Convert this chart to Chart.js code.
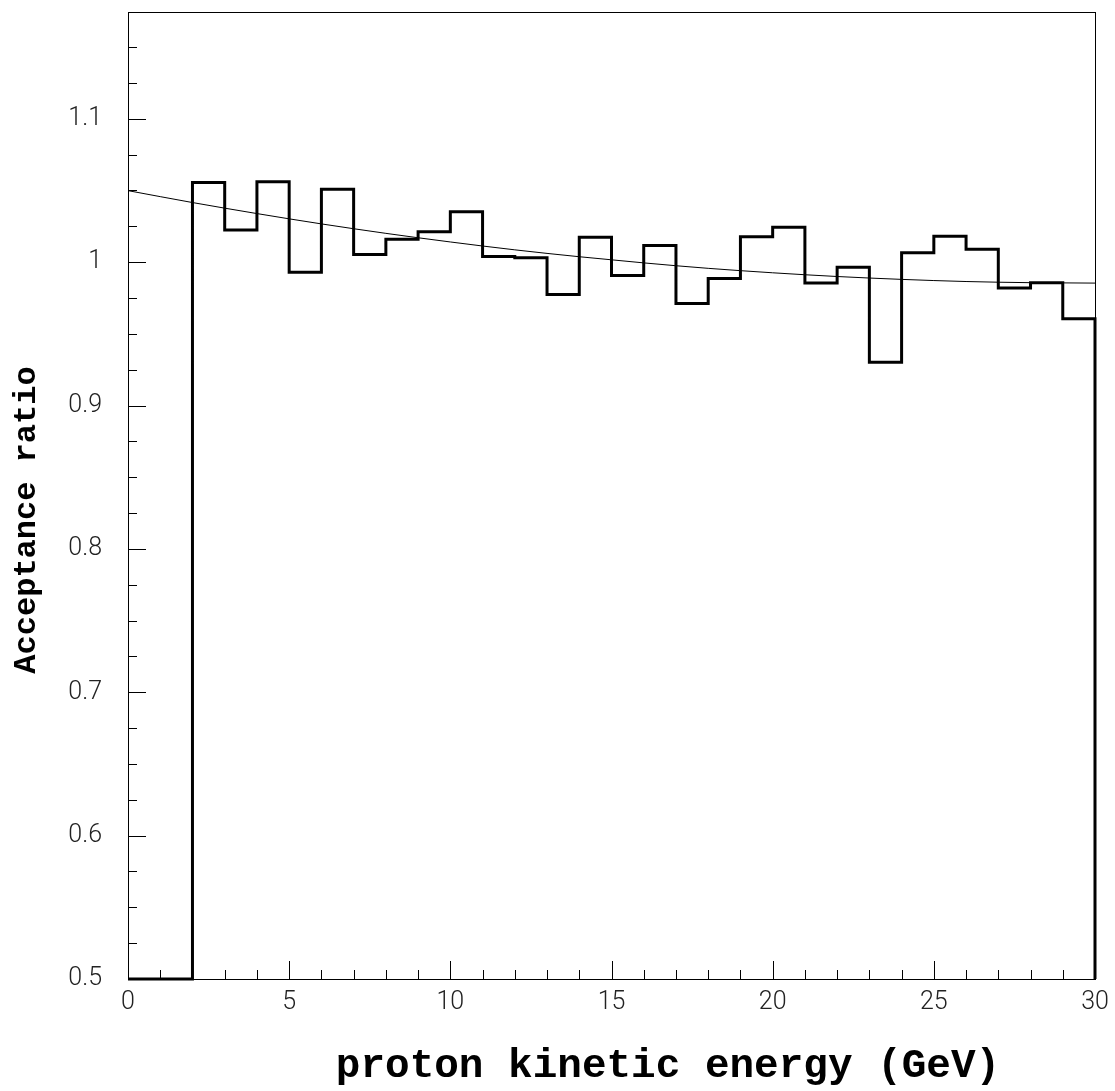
<!DOCTYPE html>
<html>
<head>
<meta charset="utf-8">
<script src="https://cdn.jsdelivr.net/npm/chart.js@4.4.1/dist/chart.umd.min.js"></script>
<style>
    html, body { margin: 0; padding: 0; background: #fff; }
    #chart-acceptance { display: block; }
</style>
</head>
<body>
<canvas id="chart-acceptance" width="1115" height="1091"></canvas>
<script>
// acceptance ratio histogram, 1 GeV bins from 0 to 30
const binEdges = [0, 1, 2, 3, 4, 5, 6, 7, 8, 9, 10, 11, 12, 13, 14, 15, 16, 17, 18, 19, 20, 21, 22, 23, 24, 25, 26, 27, 28, 29, 30];
const binValues = [
    0.5, 0.5, 1.0555, 1.0225, 1.0561, 0.993, 1.0508, 1.0053, 1.016, 1.0213,
    1.0352, 1.0039, 1.003, 0.9775, 1.0174, 0.9907, 1.0116, 0.9712, 0.9886, 1.0178,
    1.0243, 0.9854, 0.9965, 0.9302, 1.0065, 1.018, 1.009, 0.9819, 0.9856, 0.9606
];

// fitted curve, every 2 GeV
const fitX = [0, 2, 4, 6, 8, 10, 12, 14, 16, 18, 20, 22, 24, 26, 28, 30];
const fitY = [1.0499, 1.0416, 1.0339, 1.0267, 1.0201, 1.0141, 1.0086, 1.0038, 0.9995, 0.9957, 0.9926, 0.99, 0.988, 0.9865, 0.9857, 0.9854];

const xTickLabels = [0, 5, 10, 15, 20, 25, 30];
const yTickLabels = [0.5, 0.6, 0.7, 0.8, 0.9, 1, 1.1];

const xTitle = 'proton kinetic energy (GeV)';
const yTitle = 'Acceptance ratio';

const tickFont = { family: 'Roboto, "Liberation Sans", sans-serif', size: 25, weight: 300 };
const isMajorX = (v) => xTickLabels.some(t => Math.abs(t - v) < 1e-6);
const isMajorY = (v) => yTickLabels.some(t => Math.abs(t - v) < 1e-6);

// histogram as step line: each point holds its value until the next edge
const histPoints = binValues.map((v, i) => ({ x: binEdges[i], y: v }));
histPoints.push({ x: binEdges[binEdges.length - 1], y: binValues[binValues.length - 1] });
histPoints.push({ x: binEdges[binEdges.length - 1], y: 0.5 });

const fitPoints = fitX.map((x, i) => ({ x: x, y: fitY[i] }));

// ROOT style: ticks pointing inward, frame all round, mono bold titles
const frameAndTicks = {
    id: 'frameAndTicks',
    afterDatasetsDraw(chart) {
        const { ctx, chartArea: a, scales } = chart;
        ctx.save();
        ctx.strokeStyle = '#000';
        ctx.lineWidth = 1;
        ctx.strokeRect(a.left + 0.5, a.top + 0.5, a.right - a.left, a.bottom - a.top);

        ctx.beginPath();
        scales.x.ticks.forEach(t => {
            const px = Math.round(scales.x.getPixelForValue(t.value)) + 0.5;
            const len = isMajorX(t.value) ? 18 : 9;
            ctx.moveTo(px, a.bottom);
            ctx.lineTo(px, a.bottom - len);
        });
        scales.y.ticks.forEach(t => {
            const py = Math.round(scales.y.getPixelForValue(t.value)) + 0.5;
            const len = isMajorY(t.value) ? 18 : 9;
            ctx.moveTo(a.left, py);
            ctx.lineTo(a.left + len, py);
        });
        ctx.stroke();
        ctx.restore();
    },
    afterDraw(chart) {
        const { ctx } = chart;
        ctx.save();
        ctx.fillStyle = '#000';
        ctx.font = "bold 41px 'Liberation Mono', 'DejaVu Sans Mono', monospace";
        ctx.textAlign = 'center';
        ctx.textBaseline = 'alphabetic';
        ctx.fillText(xTitle, 668, 1077);

        ctx.translate(35, 520);
        ctx.rotate(-Math.PI / 2);
        ctx.font = "bold 32px 'Liberation Mono', 'DejaVu Sans Mono', monospace";
        ctx.fillText(yTitle, 0, 0);
        ctx.restore();
    }
};

new Chart(document.getElementById('chart-acceptance'), {
    type: 'line',
    data: {
        datasets: [
            {
                label: 'fit',
                data: fitPoints,
                borderColor: '#000',
                borderWidth: 1,
                pointRadius: 0,
                cubicInterpolationMode: 'monotone',
                fill: false
            },
            {
                label: 'ratio',
                data: histPoints,
                borderColor: '#000',
                borderWidth: 3,
                pointRadius: 0,
                stepped: true,
                fill: false,
                clip: 4
            }
        ]
    },
    options: {
        responsive: false,
        devicePixelRatio: 1,
        animation: false,
        layout: { padding: { top: 12, right: 20, left: 0, bottom: 0 } },
        plugins: {
            legend: { display: false },
            tooltip: { enabled: false }
        },
        scales: {
            x: {
                type: 'linear',
                min: 0,
                max: 30,
                afterFit: (scale) => {
                    scale.height = 112;
                    scale.paddingLeft = 0;
                    scale.paddingRight = 0;
                },
                grid: { display: false, drawTicks: false },
                border: { display: true, color: '#000', width: 1 },
                ticks: {
                    stepSize: 1,
                    autoSkip: false,
                    maxRotation: 0,
                    padding: 9,
                    color: '#222',
                    font: tickFont,
                    callback: (v) => isMajorX(v) ? String(Math.round(v)) : ''
                }
            },
            y: {
                type: 'linear',
                min: 0.5,
                max: 1.1745,
                afterFit: (scale) => {
                    scale.width = 128;
                    scale.paddingTop = 0;
                    scale.paddingBottom = 0;
                },
                grid: { display: false, drawTicks: false },
                border: { display: true, color: '#000', width: 1 },
                ticks: {
                    stepSize: 0.025,
                    includeBounds: false,
                    autoSkip: false,
                    padding: 26,
                    color: '#222',
                    font: tickFont,
                    callback: (v) => isMajorY(v) ? String(Math.round(v * 10) / 10) : ''
                }
            }
        }
    },
    plugins: [frameAndTicks]
});
</script>
</body>
</html>
